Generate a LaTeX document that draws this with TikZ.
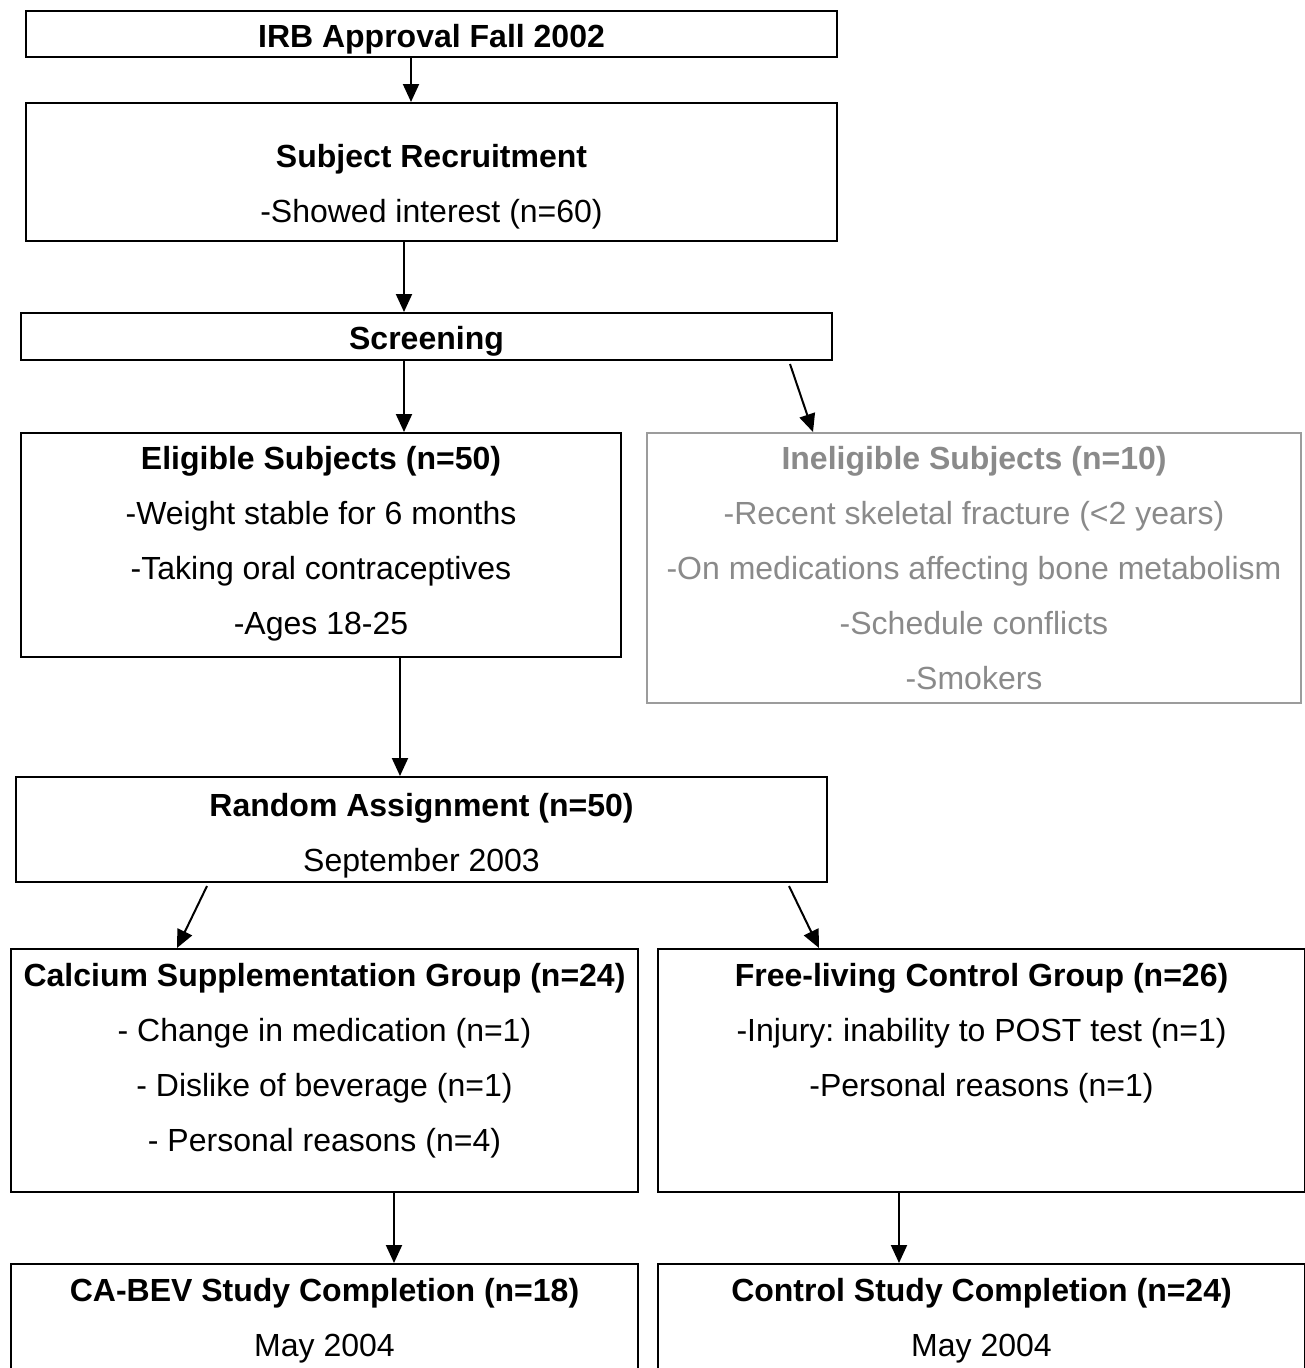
\documentclass[tikz,border=0pt]{standalone}
\usepackage{fontspec}
\setmainfont{Liberation Sans}
\frenchspacing
\usetikzlibrary{arrows.meta,positioning}
\definecolor{inelgray}{HTML}{8A8A8A}
\definecolor{inelframe}{HTML}{9C9C9C}

\begin{document}
\begin{tikzpicture}
    [
      x=1pt, y=-1pt,
      box/.style={draw, line width=2pt, anchor=north west, inner sep=0pt},
      txt/.style={align=center, inner sep=0pt, font=\fontsize{32}{55}\selectfont},
      arr/.style={-{Triangle[width=16pt,length=18pt]}, line width=2pt}
    ]
    \clip (0,0) rectangle (1305,1368);
    % boxes
    \node[box, minimum width=811pt, minimum height=46pt] (irb) at (25,10) {};
    \node[box, minimum width=811pt, minimum height=138pt] (subj) at (25,102) {};
    \node[box, minimum width=811pt, minimum height=47pt] (screen) at (20,312) {};
    \node[box, minimum width=600pt, minimum height=224pt] (elig) at (20,432) {};
    \node[box, draw=inelframe, minimum width=654pt, minimum height=270pt] (inel) at (646,432) {};
    \node[box, minimum width=811pt, minimum height=105pt] (rand) at (15,776) {};
    \node[box, minimum width=627pt, minimum height=243pt] (calc) at (10,948) {};
    \node[box, minimum width=647pt, minimum height=243pt] (free) at (657,948) {};
    \node[box, minimum width=627pt, minimum height=150pt] (cabev) at (10,1263) {};
    \node[box, minimum width=647pt, minimum height=150pt] (ctrl) at (657,1263) {};
    % texts
    \node[txt, below=14pt of irb.north] (irb-t) {\textbf{IRB Approval Fall 2002}};
    \node[txt, below=42pt of subj.north] (subj-t) {\textbf{Subject Recruitment}\\-Showed interest (n=60)};
    \node[txt, below=14pt of screen.north] (screen-t) {\textbf{Screening}};
    \node[txt, below=14pt of elig.north] (elig-t) {\textbf{Eligible Subjects (n=50)}\\-Weight stable for 6 months\\-Taking oral contraceptives\\-Ages 18-25};
    \node[txt, text=inelgray, below=14pt of inel.north] (inel-t) {\textbf{Ineligible Subjects (n=10)}\\-Recent skeletal fracture (<2 years)\\-On medications affecting bone metabolism\\-Schedule conflicts\\-Smokers};
    \node[txt, below=17pt of rand.north] (rand-t) {\textbf{Random Assignment (n=50)}\\September 2003};
    \node[txt, below=15pt of calc.north] (calc-t) {\textbf{Calcium Supplementation Group (n=24)}\\- Change in medication (n=1)\\- Dislike of beverage (n=1)\\- Personal reasons (n=4)};
    \node[txt, below=15pt of free.north] (free-t) {\textbf{Free-living Control Group (n=26)}\\-Injury: inability to POST test (n=1)\\-Personal reasons (n=1)};
    \node[txt, below=15pt of cabev.north] (cabev-t) {\textbf{CA-BEV Study Completion (n=18)}\\May 2004};
    \node[txt, below=15pt of ctrl.north] (ctrl-t) {\textbf{Control Study Completion (n=24)}\\May 2004};
    % arrows
    \draw[arr] ([xshift=-20.5pt]irb.south) -- ([xshift=-20.5pt]subj.north);
    \draw[arr] ([xshift=-27.5pt]subj.south) -- ([xshift=-27.5pt]subj.south |- screen.north);
    \draw[arr] ([xshift=-22.5pt]screen.south) -- ([xshift=-22.5pt]screen.south |- elig.north);
    \draw[arr] ([xshift=363.5pt, yshift=-3pt]screen.south) -- ([xshift=-161pt]inel.north);
    \draw[arr] ([xshift=79pt]elig.south) -- ([xshift=79pt]elig.south |- rand.north);
    \draw[arr] ([xshift=-214.5pt, yshift=-3pt]rand.south) -- ([xshift=-147.5pt]calc.north);
    \draw[arr] ([xshift=367.5pt, yshift=-3pt]rand.south) -- ([xshift=-162.5pt]free.north);
    \draw[arr] ([xshift=69.5pt]calc.south) -- ([xshift=69.5pt]calc.south |- cabev.north);
    \draw[arr] ([xshift=-82.5pt]free.south) -- ([xshift=-82.5pt]free.south |- ctrl.north);
\end{tikzpicture}
\end{document}
